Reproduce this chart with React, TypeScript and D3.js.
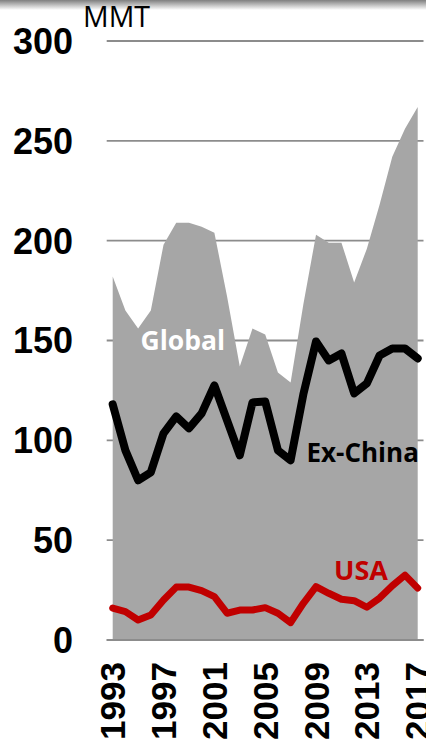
import React from "react";
import * as d3 from "d3";

const years: number[] = [1993,1994,1995,1996,1997,1998,1999,2000,2001,2002,2003,2004,2005,2006,2007,2008,2009,2010,2011,2012,2013,2014,2015,2016,2017];
const globalVals: number[] = [182,165,156,165,198,209,209,207,204,172,137,156,153,134,129,168,203,199,199,179,196,218,242,256,267];
const exChinaVals: number[] = [118,95,80,84,103.5,112,106,113.5,127.5,110,92.5,119,119.5,95,90,123,149.5,140,143.5,123.5,128.5,142.5,146,146,141];
const usaVals: number[] = [16,14.2,10,12.5,20,26.5,26.5,24.7,21.7,13.4,15,15,16.2,13.4,8.7,18.4,26.7,23.4,20.4,19.7,16.4,21,27.2,32.5,26];
const yTicks: number[] = [0,50,100,150,200,250,300];
const xTickYears: number[] = [1993,1997,2001,2005,2009,2013,2017];

export default function App() {
  const W = 426, H = 745;
  const x = d3.scaleLinear().domain([1993, 2017]).range([112.7, 417.7]);
  const y = d3.scaleLinear().domain([0, 300]).range([640, 41]);

  const area = d3.area<number>().x((_, i) => x(years[i])).y0(y(0)).y1((d) => y(d));
  const line = d3.line<number>().x((_, i) => x(years[i])).y((d) => y(d)).curve(d3.curveLinear);

  const labelFont = "'Liberation Sans', Arial, sans-serif";
  const calFont = "'Open Sans', 'Noto Sans', sans-serif";

  return (
    <svg width={W} height={H} style={{ position: "absolute", left: 0, top: 0, background: "#fff" }}>
      <defs>
        <linearGradient id="topShadow" x1="0" y1="0" x2="0" y2="1">
          <stop offset="0%" stopColor="#7f7f7f" />
          <stop offset="60%" stopColor="#cccccc" />
          <stop offset="100%" stopColor="#ffffff" />
        </linearGradient>
      </defs>
      <rect x={0} y={0} width={W} height={10} fill="url(#topShadow)" />
      {yTicks.map((t) => (
        <line key={t} x1={106.7} x2={423.5} y1={y(t)} y2={y(t)} stroke="#8c8c8c" strokeWidth={1.8} />
      ))}
      <path d={area(globalVals) || ""} fill="#a6a6a6" />
      <line x1={106.7} x2={423.5} y1={y(0)} y2={y(0)} stroke="#8c8c8c" strokeWidth={1.8} />
      <path d={line(exChinaVals) || ""} fill="none" stroke="#000" strokeWidth={8} strokeLinejoin="round" strokeLinecap="round" />
      <path d={line(usaVals) || ""} fill="none" stroke="#c00000" strokeWidth={7} strokeLinejoin="round" strokeLinecap="round" />
      {yTicks.map((t) => (
        <text key={t} x={73} y={y(t)} dy="0.36em" textAnchor="end" fontFamily={labelFont} fontWeight="bold" fontSize={36} fill="#000">{t}</text>
      ))}
      {xTickYears.map((yr) => (
        <text key={yr} transform={`translate(${x(yr)},662) rotate(-90)`} dy="0.36em" textAnchor="end" fontFamily={labelFont} fontWeight="bold" fontSize={35} fill="#000">{yr}</text>
      ))}
      <text x={83} y={27} fontFamily={calFont} fontSize={28.5} fill="#000">MMT</text>
      <text x={140.5} y={350} fontFamily={calFont} fontWeight="bold" fontSize={26.5} fill="#fff">Global</text>
      <text x={306.5} y={462} fontFamily={calFont} fontWeight="bold" fontSize={26} fill="#000">Ex-China</text>
      <text x={334} y={579.5} fontFamily={calFont} fontWeight="bold" fontSize={27} fill="#c00000">USA</text>
    </svg>
  );
}
